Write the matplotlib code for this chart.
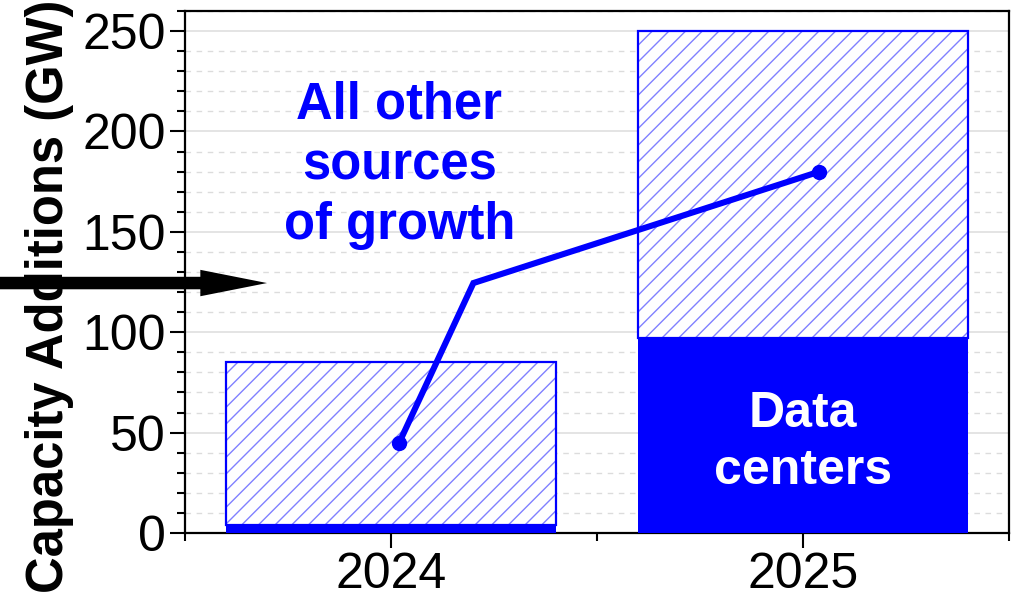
import matplotlib
matplotlib.use("Agg")
import matplotlib.pyplot as plt
from matplotlib.ticker import MultipleLocator, FixedLocator

plt.rcParams['font.family'] = ['Liberation Sans', 'DejaVu Sans']

# Capacity additions (GW)
years = ["2024", "2025"]
total_gw = [85, 250]
data_center_gw = [4, 97]

# Guide line from the 2024 bar up into the 2025 bar
guide_x = [0.02, 0.20, 1.04]
guide_y = [45, 124.5, 180]

BLUE = "#0000ff"
HATCH_BLUE = "#8080ff"

fig = plt.figure(figsize=(10.25, 6.02), dpi=100)
ax = fig.add_axes([185 / 1025, 1 - 533 / 602, (1009 - 185) / 1025, (533 - 11) / 602])

xpos = list(range(len(years)))
width = 0.8
other_gw = [t - d for t, d in zip(total_gw, data_center_gw)]

# hatched "all other sources" portion (hatch lines only)
ax.bar(xpos, other_gw, width, bottom=data_center_gw, facecolor="white",
       edgecolor=HATCH_BLUE, hatch="//", linewidth=0, zorder=2)
# outline of the hatched portion
ax.bar(xpos, other_gw, width, bottom=data_center_gw, fill=False,
       edgecolor=BLUE, linewidth=1.6, zorder=3)
# solid data-center portion
ax.bar(xpos, data_center_gw, width, color=BLUE, linewidth=0, zorder=3)

ax.plot(guide_x, guide_y, color=BLUE, lw=4.4, marker="o", markersize=10,
        markevery=[0, len(guide_x) - 1], solid_joinstyle="miter", zorder=5)

ax.text(0.02, 183, "All other\nsources\nof growth", color=BLUE, fontsize=36.5,
        fontweight="bold", ha="center", va="center", linespacing=1.3, zorder=6)
ax.text(1.0, 45, "Data\ncenters", color="white", fontsize=36,
        fontweight="bold", ha="center", va="center", linespacing=1.3, zorder=6)

ax.set_xlim(-0.5, 1.5)
ax.set_ylim(0, 260)
ax.set_xticks(xpos)
ax.set_xticklabels(years)
ax.xaxis.set_minor_locator(FixedLocator([-0.5, 0.5, 1.5]))
ax.yaxis.set_major_locator(MultipleLocator(50))
ax.yaxis.set_minor_locator(MultipleLocator(10))

ax.tick_params(axis="both", which="major", labelsize=36, length=11, width=1.5,
               direction="out", colors="black", pad=3)
ax.tick_params(axis="both", which="minor", length=6, width=1.5, direction="out")
ax.tick_params(top=False, right=False, which="both")

ax.grid(True, which="major", axis="y", color="#e2e2e2", lw=1.3, ls="-", zorder=0)
ax.grid(True, which="minor", axis="y", color="#dcdcdc", lw=1.0, ls=(0, (4, 4)), zorder=0)
ax.set_axisbelow(True)

for s in ax.spines.values():
    s.set_linewidth(1.6)
    s.set_color("black")

fig.text(50 / 1025, 1 - 296 / 602, "Capacity Additions (GW)", rotation=90,
         fontsize=36.5, fontweight="bold", ha="center", va="center")

# pointer arrow at the bend of the guide line
ax.annotate("", xy=(267, guide_y[1]), xytext=(-10, guide_y[1]),
            xycoords=("figure pixels", "data"), textcoords=("figure pixels", "data"),
            arrowprops=dict(arrowstyle="simple,head_length=0.48,head_width=0.19,tail_width=0.09",
                            mutation_scale=100, color="black", shrinkA=0, shrinkB=0, lw=0),
            annotation_clip=False, zorder=10)

fig.savefig("out.png", dpi=100)
